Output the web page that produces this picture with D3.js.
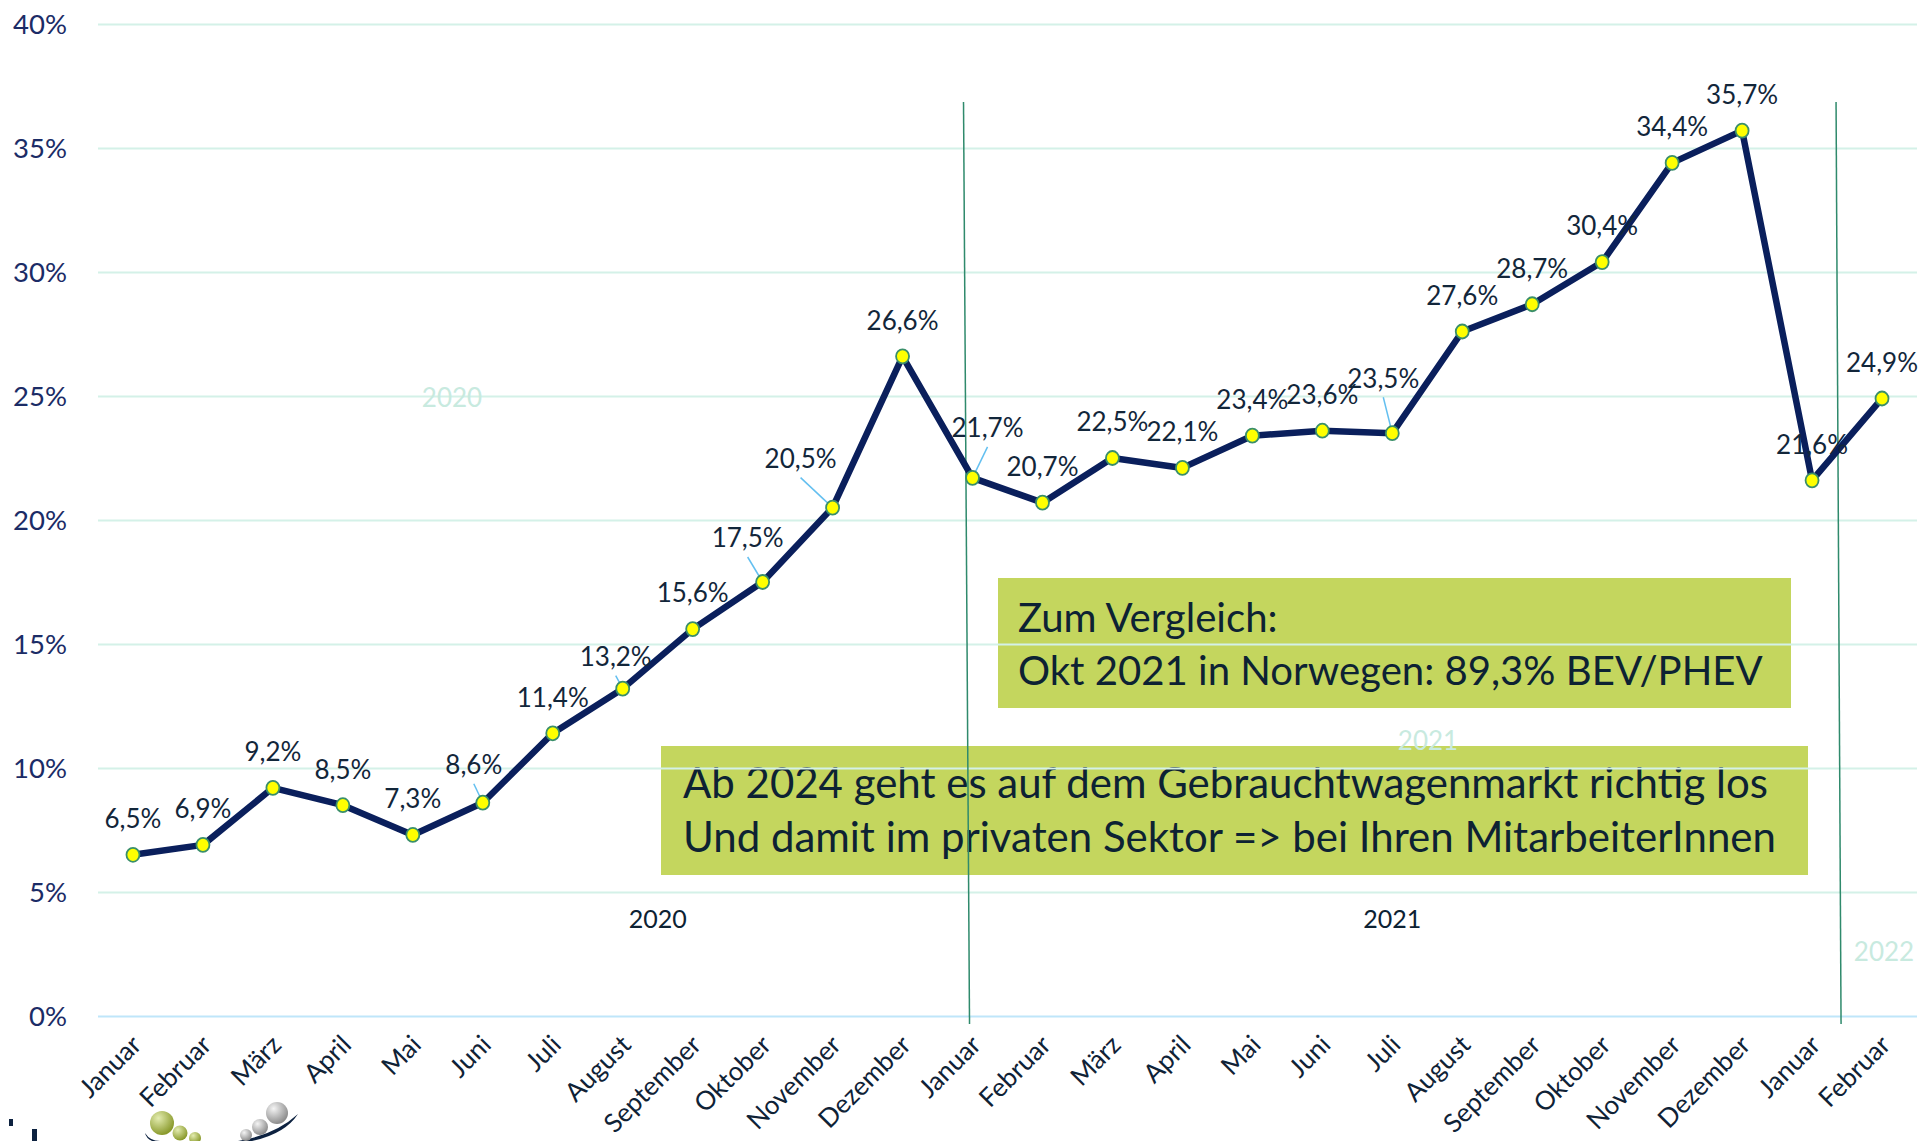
<!DOCTYPE html>
<html lang="de">
<head>
    <meta charset="UTF-8">
    <title>Anteil BEV/PHEV an Neuzulassungen</title>
    <script src="https://d3js.org/d3.v7.min.js"></script>
    <style>
        html, body {
            margin: 0;
            padding: 0;
            background: #ffffff;
            overflow: hidden;
        }

        svg {
            display: block;
            font-family: Lato, "Open Sans", sans-serif;
        }

        .y-axis text {
            fill: #1b2c66;
            font-size: 27.5px;
        }

        .x-axis text {
            fill: #0f2236;
            font-size: 26px;
        }

        .value-label {
            fill: #12263a;
            font-size: 26px;
            text-anchor: middle;
        }

        .note text {
            fill: #0d2233;
        }
    </style>
</head>
<body>
    <svg id="chart"></svg>
    <script>
        // months Jan 2020 .. Feb 2022
        const months = ["Januar", "Februar", "März", "April", "Mai", "Juni", "Juli", "August",
            "September", "Oktober", "November", "Dezember",
            "Januar", "Februar", "März", "April", "Mai", "Juni", "Juli", "August",
            "September", "Oktober", "November", "Dezember",
            "Januar", "Februar"];
        const shares = [6.5, 6.9, 9.2, 8.5, 7.3, 8.6, 11.4, 13.2, 15.6, 17.5, 20.5, 26.6,
            21.7, 20.7, 22.5, 22.1, 23.4, 23.6, 23.5, 27.6, 28.7, 30.4, 34.4, 35.7,
            21.6, 24.9];
        const yTicks = [0, 5, 10, 15, 20, 25, 30, 35, 40];
        const years = ["2020", "2021", "2022"];
        const noteCompare = ["Zum Vergleich:", "Okt 2021 in Norwegen: 89,3% BEV/PHEV"];
        const noteMarket = ["Ab 2024 geht es auf dem Gebrauchtwagenmarkt richtig los",
            "Und damit im privaten Sektor => bei Ihren MitarbeiterInnen"];

        const W = 1921, H = 1141;
        const plot = { left: 98, right: 1917, top: 24, bottom: 1016 };

        const svg = d3.select("#chart")
            .attr("width", W)
            .attr("height", H);

        const x = d3.scalePoint()
            .domain(d3.range(months.length))
            .range([plot.left, plot.right])
            .padding(0.5);

        const y = d3.scaleLinear()
            .domain([0, 40])
            .range([plot.bottom, plot.top]);

        // green note boxes (behind the grid)
        function fitText(sel, target) {
            const w = sel.node().getComputedTextLength();
            const fs = parseFloat(sel.attr("font-size"));
            sel.attr("font-size", fs * target / w);
        }

        const boxColor = "#c4d65e";
        const note1 = svg.append("g").attr("class", "note");
        note1.append("rect")
            .attr("x", 998).attr("y", 578)
            .attr("width", 793).attr("height", 130)
            .attr("fill", boxColor);
        const n1 = note1.selectAll("text")
            .data(noteCompare)
            .join("text")
            .attr("x", 1018)
            .attr("y", (d, i) => 632 + i * 53)
            .attr("font-size", 40)
            .text(d => d);
        fitText(d3.select(n1.nodes()[1]), 745);
        d3.select(n1.nodes()[0]).attr("font-size", d3.select(n1.nodes()[1]).attr("font-size"));

        const note2 = svg.append("g").attr("class", "note");
        note2.append("rect")
            .attr("x", 661).attr("y", 746)
            .attr("width", 1147).attr("height", 129)
            .attr("fill", boxColor);
        const n2 = note2.selectAll("text")
            .data(noteMarket)
            .join("text")
            .attr("x", 683)
            .attr("y", (d, i) => 798 + i * 54)
            .attr("font-size", 40)
            .text(d => d);
        fitText(d3.select(n2.nodes()[1]), 1093);
        d3.select(n2.nodes()[0]).attr("font-size", d3.select(n2.nodes()[1]).attr("font-size"));

        // y axis with grid lines
        const yAxis = svg.append("g")
            .attr("class", "y-axis")
            .attr("transform", `translate(${plot.left},0)`)
            .call(d3.axisLeft(y)
                .tickValues(yTicks)
                .tickSize(-(plot.right - plot.left))
                .tickPadding(31)
                .tickFormat(d => d + "%"))
            .attr("font-family", null)
            .attr("font-size", null);
        yAxis.select(".domain").remove();
        yAxis.selectAll("line")
            .attr("stroke", d => d === 0 ? "#bfe6fa" : "#d4f1e8")
            .attr("stroke-width", 2);
        yAxis.selectAll("text").attr("dy", "0.36em");

        // faint year watermarks
        const faint = [[years[0], 452, 407], [years[1], 1428, 750], [years[2], 1884, 961]];
        svg.selectAll(".faint-year")
            .data(faint)
            .join("text")
            .attr("class", "faint-year")
            .attr("x", d => d[1])
            .attr("y", d => d[2])
            .attr("text-anchor", "middle")
            .attr("font-size", 26)
            .attr("fill", "#c8eadf")
            .text(d => d[0]);

        // year labels under the plot
        svg.selectAll(".year")
            .data([[years[0], (x(7) + x(8)) / 2], [years[1], x(18)]])
            .join("text")
            .attr("class", "year")
            .attr("x", d => d[1])
            .attr("y", 928)
            .attr("text-anchor", "middle")
            .attr("font-size", 25)
            .attr("fill", "#0d2233")
            .text(d => d[0]);

        // year separators
        const sep = [[x(12) - 9, x(12) - 3], [x(24) + 24, x(24) + 29]];
        svg.selectAll(".sep")
            .data(sep)
            .join("line")
            .attr("class", "sep")
            .attr("x1", d => d[0]).attr("y1", 102)
            .attr("x2", d => d[1]).attr("y2", 1024)
            .attr("stroke", "#2f8a6c")
            .attr("stroke-width", 1.5);

        // x axis
        const xAxis = svg.append("g")
            .attr("class", "x-axis")
            .attr("transform", `translate(0,${plot.bottom})`)
            .call(d3.axisBottom(x).tickSize(0).tickFormat(i => months[i]))
            .attr("font-family", null)
            .attr("font-size", null);
        xAxis.select(".domain").remove();
        xAxis.selectAll("text")
            .attr("x", 0)
            .attr("y", 0)
            .attr("dy", "0.35em")
            .attr("text-anchor", "end")
            .attr("transform", "translate(3,24) rotate(-45)");

        // data line
        const line = d3.line()
            .x((d, i) => x(i))
            .y(d => y(d));

        svg.append("path")
            .datum(shares)
            .attr("fill", "none")
            .attr("stroke", "#0a1f5c")
            .attr("stroke-width", 6.5)
            .attr("stroke-linejoin", "round")
            .attr("d", line);

        // label nudges for the callouts that were dragged off their point
        const nudge = { 5: [-9, 38], 7: [-7, 32], 9: [-15, 44], 10: [-32, 49], 12: [15, 50], 18: [-9, 55] };

        const labels = shares.map((v, i) => {
            const n = nudge[i] || [0, 36];
            return { v, i, lx: x(i) + n[0], ly: y(v) - n[1], lead: !!nudge[i] };
        });

        svg.selectAll(".leader")
            .data(labels.filter(d => d.lead))
            .join("line")
            .attr("class", "leader")
            .attr("x1", d => d.lx)
            .attr("y1", d => d.ly + 19)
            .attr("x2", d => x(d.i))
            .attr("y2", d => y(d.v))
            .attr("stroke", "#63bff0")
            .attr("stroke-width", 1.5);

        svg.selectAll(".dot")
            .data(shares)
            .join("ellipse")
            .attr("class", "dot")
            .attr("cx", (d, i) => x(i))
            .attr("cy", d => y(d))
            .attr("rx", 6.5)
            .attr("ry", 7)
            .attr("fill", "#ffff00")
            .attr("stroke", "#3a8f6a")
            .attr("stroke-width", 1.8);

        svg.selectAll(".value-label")
            .data(labels)
            .join("text")
            .attr("class", "value-label")
            .attr("x", d => d.lx)
            .attr("y", d => d.ly)
            .attr("dy", "0.36em")
            .text(d => d.v.toFixed(1).replace(".", ",") + "%");

        // cropped logo in the corner
        const defs = svg.append("defs");
        const grad = (id, light, dark) => {
            const g = defs.append("radialGradient").attr("id", id)
                .attr("cx", "35%").attr("cy", "30%").attr("r", "70%");
            g.append("stop").attr("offset", "0%").attr("stop-color", light);
            g.append("stop").attr("offset", "100%").attr("stop-color", dark);
        };
        grad("gGreen", "#e3ecb0", "#8a9a2c");
        grad("gGrey", "#f4f4f4", "#8d8d8d");

        const logo = svg.append("g");
        logo.append("path")
            .attr("d", "M145,1133 Q150,1141 160,1141 L152,1141 Q146,1138 145,1133 Z")
            .attr("fill", "#0d2240");
        logo.append("path")
            .attr("d", "M238,1141 Q275,1135 298,1114 Q285,1134 252,1141 Z")
            .attr("fill", "#0d2240");
        [[162, 1123, 12], [180, 1133, 7.5], [195, 1138, 6]].forEach(c =>
            logo.append("circle").attr("cx", c[0]).attr("cy", c[1]).attr("r", c[2]).attr("fill", "url(#gGreen)"));
        [[277, 1113, 11], [260, 1127, 8], [246, 1135, 6]].forEach(c =>
            logo.append("circle").attr("cx", c[0]).attr("cy", c[1]).attr("r", c[2]).attr("fill", "url(#gGrey)"));
        logo.append("rect").attr("x", 9).attr("y", 1119).attr("width", 4).attr("height", 7).attr("fill", "#0d2240");
        logo.append("rect").attr("x", 32).attr("y", 1129).attr("width", 5).attr("height", 12).attr("fill", "#0d2240");
    </script>
</body>
</html>
